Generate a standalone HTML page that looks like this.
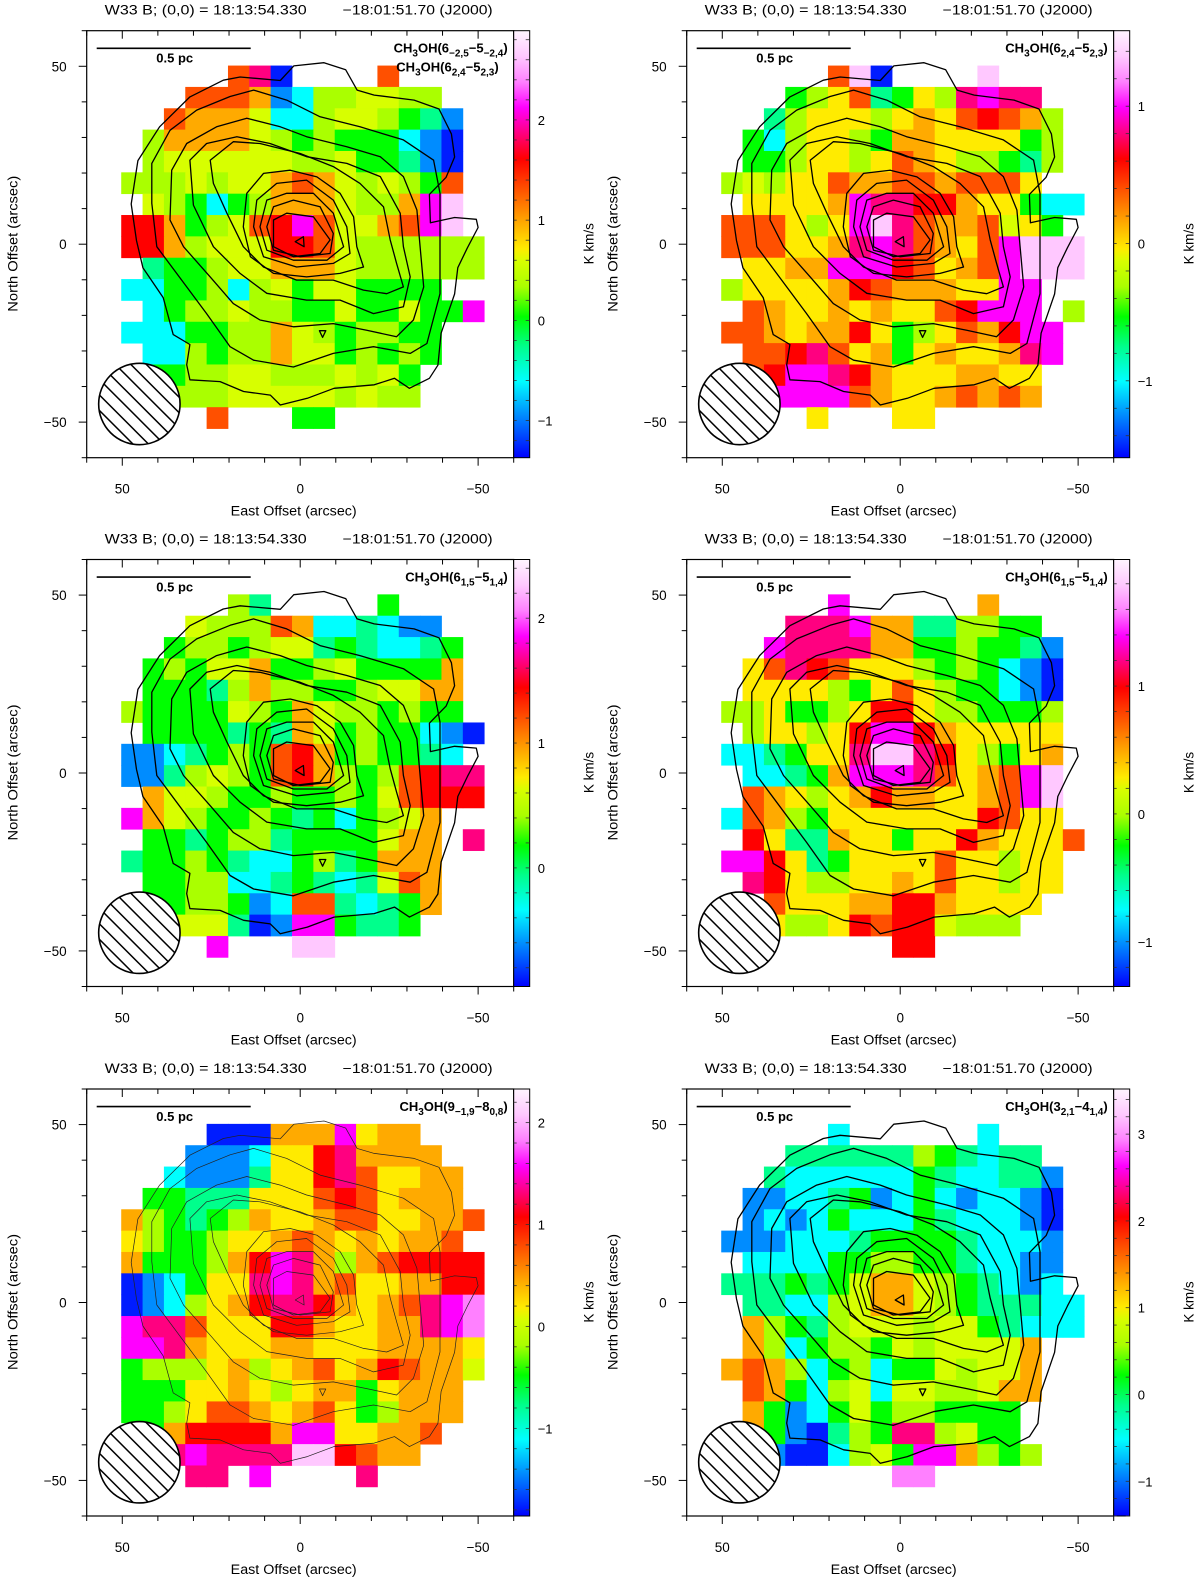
<!DOCTYPE html>
<html><head><meta charset="utf-8"><style>
html,body{margin:0;padding:0;background:#fff}
svg{display:block}
text{font-family:"Liberation Sans",sans-serif;fill:#000}
</style></head><body>
<svg id="fig" width="1200" height="1578" viewBox="0 0 1200 1578" xmlns="http://www.w3.org/2000/svg">
<defs id="defs"></defs>
</svg>
<script>
// ---------- DATA ----------
const grid1 = [
".....8m0....8....","...888712556655..","..87776225665431.",".577776545444210.",
".566666655644310.","5556566787656548.",".6542457776557pw.","99745689p86678pw.",
"99756669986555555",".3445667776555555","224452564664444..",".245565544644644p",
"222445576545544..",".22545576645454..",".4455665556564...","..555666665655...","....8...44......."];
const grid2 = [
".....8w0....w....","...45y834y5mpmm..","..35yyy5y7y89875.",".425yy5477yyyy45.",
".445yy5y87y55435.","565yy877887888y..",".yyyy7pmm997yy422","888y5ypwm87786y4.",
"888yy7mpm87y8pwww",".yy77ppp98y78pwww","5yyyy798777yypp..",".87yy7y7yy89ppp.5",
"887y779y45y879pp.",".889m8y74y7yy7mp.",".89ppm97yyy77yy..","..pppp87yy78787...","....y...yy......."];
const grid3 = [
".....53.....4....","...655587223211..","..45545663432234.",".454667445644447.",
".444357554456677.","5444465476554544.",".4444343764544210","1123454897454432.",
"113565489754589mm",".7665445445468999","p76544543424567..",".44345534444677.m",
"344543224534777..",".44552234323687..",".44554128832347..","..666301pp4334...","....p...ww......."];
const grid4 = [
".....p......7....","...mmmp77335544..","..pmmmm774454431.",".y8m98yyy5454210.",
".yyyy54y8y544210.","55y445y99y554445.",".5yy5y9pp97yyyyy.","2234yymwwm9y54y7.",
".22347pppm8y78pw.",".87y5y7977yy78pw.","28754yyyyyyy98yy.",".9y337yy4yy97yyy8",
"pp9y34yyyy8yy5yy.",".m9y55yy7y8yy5yy.","..8yyy77997yyyy..","..y55y98996555...","........99......."];
const grid5 = [
"....000777py77...","...1112yy9m7777..","..21113yy9m8yy77.",".44333yyy898y777.",
"7543457yy788yy778","y5445yy787y7y778.","7444579pm75789999","0124yympm78yy7799",
"0125y79mm97y78mpv","pmm8yyy997yy77mpv","ppm7yyy77yyy7777y","4555y75y78y798776",
"444yy7y5y774y777.","445y887y78y45777.",".4799997ppyy778..","..mpmmmmww9877...","...mm.p....m....."];
const grid6 = [
".....2......2....","...333333543233..","..32222224322331.",".112234124212210.",
".121242224322210.","1112223444432221.",".222244554432211.","3334346776543212.",
".3322567765433322",".7543566656643222",".75245546566667..","787524524465667..",
".87425626655677..",".7412464554444...",".7410354mm5644...","..1002564pp7545...","........vv......."];
const grids = [grid1, grid2, grid3, grid4, grid5, grid6];
const cbMin = [-1.37, -1.56, -0.95, -1.35, -1.86, -1.40];
const cbMax = [2.89, 1.55, 2.47, 1.99, 2.33, 3.52];
const cbTicks = [[-1,0,1,2],[-1,0,1],[0,1,2],[-1,0,1],[-1,0,1,2],[-1,0,1,2,3]];
const codeFrac = {"0":0.02,"1":0.1,"2":0.18,"3":0.26,"4":0.33,"5":0.4,"6":0.46,"y":0.49,"7":0.55,"8":0.63,"9":0.7,"m":0.76,"p":0.82,"v":0.88,"w":0.94};
const contour1 = [[1.8,50.1],[-6.7,51],[-12.8,49],[-16,43.3],[-20.8,41.9],[-32,40.5],[-39,38],[-42.5,31],[-43.4,24.5],[-41,18.8],[-36.3,14],[-36.6,6],[-43.4,7.5],[-49.5,7],[-50,4.7],[-47,-1],[-44.3,-6.6],[-43.4,-14],[-39.6,-25],[-38.7,-34],[-36.3,-37.7],[-30.7,-40.5],[-26.5,-37.7],[-20.8,-39.5],[-9.5,-40.5],[-2,-43.3],[5.6,-45.2],[8.4,-42.4],[15.9,-41.4],[22.5,-38.6],[31,-38.1],[31.9,-33.9],[31,-28.2],[35.7,-25.4],[38.5,-15],[44.2,-6.6],[46,1],[47.5,11.3],[45.6,23.5],[39.5,33],[31,41.4],[21.6,46.1],[16.9,47],[5.6,46]];
const contour2 = [[41.7,11.5],[41.7,22.7],[36.6,32],[29.1,37.7],[19.7,41.5],[13.1,43.3],[3.8,40.5],[-5.6,35.8],[-16.8,33],[-29,29.3],[-37.5,23.6],[-39.3,14.3],[-39.3,-0.7],[-39.3,-13.9],[-35.6,-27.9],[-30.9,-30.7],[-20.6,-28.8],[-9.3,-30.7],[1.9,-34.5],[13.1,-32.6],[19.7,-28.8],[26.3,-19.5],[31.9,-12],[40.3,-0.7]];
const contour3 = [[36.6,6.8],[36.1,20.8],[31.9,28.3],[23.5,33],[15,35.4],[5.6,33],[-1.8,30.2],[-13.1,27.4],[-22.5,24.6],[-29,19],[-32.8,9.6],[-33.7,-0.7],[-34.7,-12],[-31.8,-21.3],[-27.1,-26],[-18.7,-24.2],[-9.3,-22.3],[1.9,-23.2],[11.3,-21.3],[18.8,-16.7],[25.3,-9.2],[32.8,-0.7]];
const contour4 = [[31,23.6],[26.3,28.3],[17.8,30.2],[8.5,28.3],[-1.8,24.6],[-13.1,22.7],[-22.5,19],[-28.1,8.7],[-29,-0.7],[-30.9,-9.2],[-29,-17.6],[-20.6,-19.5],[-11.2,-15.7],[-1.8,-15.7],[9.4,-13.8],[16.9,-8.2],[24.4,-0.7],[30,11]];
const contour5 = [[25.3,23.6],[18.8,28.8],[11.3,28.3],[0,25.5],[-9.3,21.8],[-16.8,17.1],[-23.4,10.5],[-25.3,1.2],[-27.1,-5.4],[-29,-12],[-24.3,-13.9],[-17.8,-12.9],[-9.3,-10.1],[1,-10.1],[10.3,-6.4],[16,-0.7],[20.6,8.7],[24.4,17.1]];
const contour6 = [[10.3,19.9],[2.8,20.8],[-4.7,18.9],[-11.2,14.3],[-15,7.7],[-15.9,-0.7],[-17.8,-6.4],[-11.2,-8.2],[-1.8,-9.2],[7.5,-8.2],[14,-3.5],[16,4.9],[15,14.3]];
const contour7 = [[12.2,12.4],[6.6,17.1],[-1.8,18],[-9.3,12.4],[-13.1,4.9],[-14,-2.6],[-9.3,-5.4],[1,-6.4],[10.3,-3.5],[13.1,4.9]];
const contour8 = [[9.4,12.4],[3.8,14.3],[-3.7,14.3],[-9.3,8.7],[-12.2,-0.7],[-7.5,-4.5],[1.9,-4.5],[9.4,-1.7],[11.3,4.9]];
const contour9 = [[7.5,10.5],[1.9,12.4],[-5.6,10.5],[-9.3,3],[-8.4,-2.6],[0,-3.5],[7.5,-1.7],[9.4,4.9]];
const contour10 = [[7.5,6.8],[3.8,8.7],[-3.7,7.7],[-8.4,1.2],[-5.6,-2.6],[1.9,-3.5],[7.5,-0.7]];
const contour11 = [[1.4,0.7],[-0.9,2.1],[-1.1,-0.7]];
const contour12 = [[-5.4,-24.3],[-7.2,-24.3],[-6.3,-26.2]];
const contours = [contour1,contour2,contour3,contour4,contour5,contour6,contour7,contour8,contour9,contour10,contour11,contour12];
// ---------- LAYOUT ----------
const NS = "http://www.w3.org/2000/svg";
const svg = document.getElementById('fig');
const defs = document.getElementById('defs');
const PW = 427, S = PW / 120;
const lefts = [86.7, 686.7], tops = [30.7, 559.5, 1089];
const cmapStops = [[0,[0,0,255]],[0.1,[0,140,255]],[0.18,[0,255,255]],[0.26,[0,255,140]],[0.33,[0,255,0]],[0.4,[170,255,0]],[0.46,[215,255,0]],[0.49,[255,235,0]],[0.55,[255,170,0]],[0.63,[255,80,0]],[0.7,[255,0,0]],[0.76,[255,0,128]],[0.82,[255,0,255]],[0.88,[255,128,255]],[0.94,[255,200,255]],[1,[255,245,255]]];
function cmap(t){t=Math.max(0,Math.min(1,t));for(let i=1;i<cmapStops.length;i++){const a=cmapStops[i-1],b=cmapStops[i];if(t<=b[0]){const f=(t-a[0])/(b[0]-a[0]);const c=a[1].map((v,k)=>Math.round(v+(b[1][k]-v)*f));return `rgb(${c[0]},${c[1]},${c[2]})`;}}return 'rgb(255,245,255)';}
function mk(tag, at, parent){const e=document.createElementNS(NS,tag);for(const k in at)e.setAttribute(k,at[k]);(parent||svg).appendChild(e);return e;}
const labels = [
  [[["CH",0],["3",1],["OH(6",0],["−2,5",1],["−5",0],["−2,4",1],[")",0]],[["CH",0],["3",1],["OH(6",0],["2,4",1],["−5",0],["2,3",1],[")",0]]],
  [[["CH",0],["3",1],["OH(6",0],["2,4",1],["−5",0],["2,3",1],[")",0]]],
  [[["CH",0],["3",1],["OH(6",0],["1,5",1],["−5",0],["1,4",1],[")",0]]],
  [[["CH",0],["3",1],["OH(6",0],["1,5",1],["−5",0],["1,4",1],[")",0]]],
  [[["CH",0],["3",1],["OH(9",0],["−1,9",1],["−8",0],["0,8",1],[")",0]]],
  [[["CH",0],["3",1],["OH(3",0],["2,1",1],["−4",0],["1,4",1],[")",0]]]
];
function fmt(v){return v<0?'−'+Math.abs(v):String(v);}

for(let p=0;p<6;p++){
  const L = lefts[p%2], T = tops[Math.floor(p/2)];
  const X = a => L + (60 - a) * S, Y = b => T + (60 - b) * S;
  const vmin = cbMin[p], vmax = cbMax[p];
  const g = mk('g', {});
  
  
  const hd1 = mk('text', {x: L+18, y: T-16, 'font-size': 13.5, textLength: 202, lengthAdjust: 'spacingAndGlyphs'}, g);
  hd1.textContent = 'W33 B; (0,0) = 18:13:54.330';
  
  
  const hd2 = mk('text', {x: L+256, y: T-16, 'font-size': 13.5, textLength: 150, lengthAdjust: 'spacingAndGlyphs'}, g);
  hd2.textContent = '−18:01:51.70 (J2000)';
  
  
  const cp = mk('clipPath', {id: 'clip'+p}, defs);
  mk('rect', {x: L, y: T, width: PW, height: PW}, cp);
  const mapG = mk('g', {'clip-path': 'url(#clip'+p+')'}, g);
  const grid = grids[p];
  for(let i=0;i<grid.length;i++){
    for(let j=0;j<17;j++){
      const c = grid[i][j];
      if(!c || !(c in codeFrac)) continue;
      const val = vmin + codeFrac[c]*(vmax-vmin);
      const xc = 47.3 - 6*j, yc = 47.2 - 6*i;
      const r = mk('rect', {x: X(xc+3).toFixed(2), y: Y(yc+3).toFixed(2), width: (6*S+0.4).toFixed(2), height: (6*S+0.4).toFixed(2), fill: cmap((val-vmin)/(vmax-vmin))}, mapG);
      
      
    }
  }
  const thin = (p===4);
  contours.forEach((cn,k)=>{
    const pts = cn.map(q => X(q[0]).toFixed(1)+','+Y(q[1]).toFixed(1)).join(' ');
    const pl = mk('polygon', {points: pts, fill: 'none', stroke: thin?'#222':'#000', 'stroke-width': thin?0.7:1.3, 'stroke-linejoin':'round'}, mapG);
    
    
  });
  const bx = X(45.2), by = Y(-44.9), br = 40.7;
  const bcp = mk('clipPath', {id: 'beam'+p}, defs);
  mk('circle', {cx: bx, cy: by, r: br}, bcp);
  mk('circle', {cx: bx, cy: by, r: br, fill: '#fff'}, g);
  const hg = mk('g', {'clip-path': 'url(#beam'+p+')'}, g);
  for(let d=-6; d<=6; d++){
    const off = d*15.5;
    mk('line', {x1: bx-60+off, y1: by-60, x2: bx+60+off, y2: by+60, stroke: '#000', 'stroke-width': 1.5}, hg);
  }
  const bc = mk('circle', {cx: bx, cy: by, r: br, fill: 'none', stroke: '#000', 'stroke-width': 1.6}, g);
  
  
  const sb = mk('line', {x1: L+10, y1: T+17.6, x2: L+164, y2: T+17.6, stroke: '#000', 'stroke-width': 1.6}, g);
  
  
  const sbt = mk('text', {x: L+88, y: T+32, 'font-size': 13, 'font-weight': 'bold', 'text-anchor': 'middle'}, g);
  sbt.textContent = '0.5 pc';
  
  
  labels[p].forEach((line, li)=>{
    const t = mk('text', {x: li===0 ? L+PW-6 : L+PW-15, y: T+22+li*19, 'font-size': 13, 'font-weight': 'bold', 'text-anchor': 'end'}, g);
    
    
    let sub = false;
    line.forEach(part=>{
      const ts = mk('tspan', {}, t);
      if(part[1] && !sub){ts.setAttribute('dy', 4); ts.setAttribute('font-size', 10); sub = true;}
      else if(part[1]){ts.setAttribute('font-size', 10);}
      else if(sub){ts.setAttribute('dy', -4); sub = false;}
      ts.textContent = part[0];
    });
  });
  const fr = mk('rect', {x: L, y: T, width: PW, height: PW, fill: 'none', stroke: '#000', 'stroke-width': 1.2}, g);
  
  
  for(let v=-60; v<=60; v+=10){
    const major = (v%50===0);
    const len = major ? 8 : 5;
    mk('line', {x1: X(v), y1: T+PW, x2: X(v), y2: T+PW+len, stroke: '#000', 'stroke-width': 1}, g);
    mk('line', {x1: X(v), y1: T, x2: X(v), y2: T+len, stroke: '#000', 'stroke-width': 1}, g);
    mk('line', {x1: L-len, y1: Y(v), x2: L, y2: Y(v), stroke: '#000', 'stroke-width': 1}, g);
  }
  [50,0,-50].forEach(v=>{
    const xt = mk('text', {x: X(v), y: T+463, 'font-size': 13.5, 'text-anchor': 'middle'}, g);
    xt.textContent = fmt(v);
    
    
    const yt = mk('text', {x: L-20, y: Y(v)+5, 'font-size': 13.5, 'text-anchor': 'end'}, g);
    yt.textContent = fmt(v);
    
    
  });
  const xat = mk('text', {x: L+207, y: T+485, 'font-size': 13.5, 'text-anchor': 'middle', textLength: 126, lengthAdjust: 'spacingAndGlyphs'}, g);
  xat.textContent = 'East Offset (arcsec)';
  
  
  const yat = mk('text', {x: 0, y: 0, 'font-size': 13.5, 'text-anchor': 'middle', textLength: 136, lengthAdjust: 'spacingAndGlyphs', transform: `translate(${L-69},${T+213}) rotate(-90)`}, g);
  yat.textContent = 'North Offset (arcsec)';
  
  
  const CX = L+PW, CW = 16;
  const lg = mk('linearGradient', {id: 'cb'+p, x1: 0, y1: 1, x2: 0, y2: 0}, defs);
  cmapStops.forEach(s=>mk('stop', {offset: s[0], 'stop-color': cmap(s[0])}, lg));
  const cb = mk('rect', {x: CX, y: T, width: CW, height: PW, fill: 'url(#cb'+p+')', stroke: '#000', 'stroke-width': 1}, g);
  
  
  const CY = v => T + PW - (v - vmin)/(vmax - vmin)*PW;
  for(let v=Math.ceil(vmin*5)/5; v<=vmax; v+=0.2){
    mk('line', {x1: CX+CW-4, y1: CY(v), x2: CX+CW, y2: CY(v), stroke: '#333', 'stroke-width': 0.8}, g);
    mk('line', {x1: CX, y1: CY(v), x2: CX+3, y2: CY(v), stroke: '#333', 'stroke-width': 0.8}, g);
  }
  cbTicks[p].forEach(v=>{
    const t = mk('text', {x: CX+24, y: CY(v)+5, 'font-size': 13, fill: p===4 ? '#888' : '#000'}, g);
    t.textContent = fmt(v);
    
    
  });
  const ku = mk('text', {x: 0, y: 0, 'font-size': 13.5, 'text-anchor': 'middle', transform: `translate(${CX+80},${T+213}) rotate(-90)`}, g);
  ku.textContent = 'K km/s';
  
  
}
</script>
</body></html>
